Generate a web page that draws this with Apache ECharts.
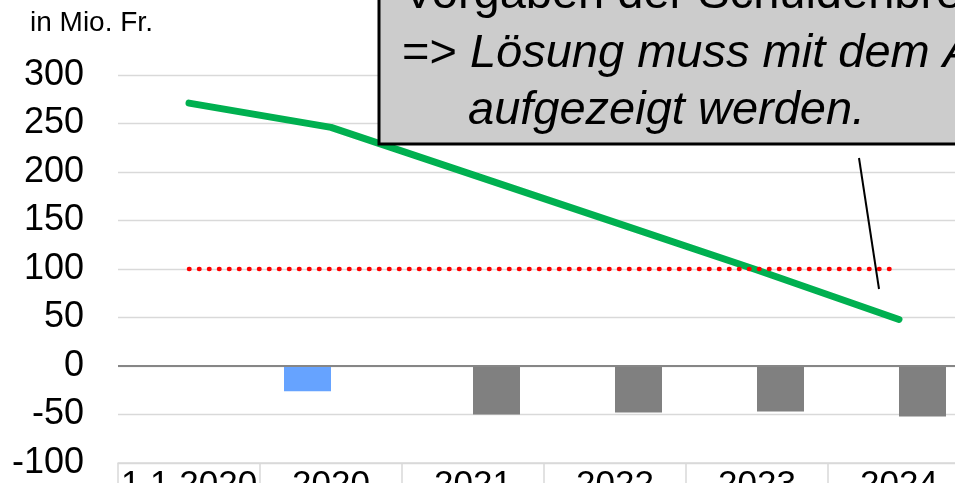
<!DOCTYPE html>
<html>
<head>
<meta charset="utf-8">
<script src="https://cdn.jsdelivr.net/npm/echarts@6/dist/echarts.min.js"></script>
<style>
  html, body { margin: 0; padding: 0; background: #fff; }
  #chart { width: 955px; height: 483px; }
</style>
</head>
<body>
<div id="chart"></div>
<script>
// Kategorien und Werte (in Mio. Fr.)
const categories = ['1.1.2020', '2020', '2021', '2022', '2023', '2024'];
const eigenkapital = [271, 246, 197, 148, 99, 48];
const limite = [100, 100, 100, 100, 100, 100];
const ergebnis2020 = [null, -26, null, null, null, null];
const ergebnisPlan = [null, null, -50, -48, -47, -52];

const FONT = '"Liberation Sans", Arial, sans-serif';

const chart = echarts.init(document.getElementById('chart'));

const option = {
    animation: false,
    backgroundColor: '#ffffff',
    grid: { left: 118, right: -15, top: 75, bottom: 20, outerBoundsMode: 'none', containLabel: false },
    xAxis: {
        type: 'category',
        data: categories,
        axisLine: { onZero: false, lineStyle: { color: '#d9d9d9', width: 1.5 } },
        axisTick: { show: true, length: 30, interval: 0, lineStyle: { color: '#d9d9d9', width: 1.5 } },
        axisLabel: { color: '#000', fontSize: 35, fontFamily: FONT, margin: 5, interval: 0 }
    },
    yAxis: {
        type: 'value',
        min: -100,
        max: 300,
        interval: 50,
        axisLine: { show: false },
        axisTick: { show: false },
        splitLine: { lineStyle: { color: '#d9d9d9', width: 1.3 } },
        axisLabel: { color: '#000', fontSize: 36, fontFamily: FONT, margin: 34 }
    },
    series: [
        {
            type: 'bar',
            data: ergebnis2020,
            barWidth: 47,
            barGap: '0%',
            itemStyle: { color: '#66a3ff' },
            markLine: {
                silent: true,
                symbol: 'none',
                label: { show: false },
                lineStyle: { color: '#868686', width: 2, type: 'solid' },
                data: [{ yAxis: 0 }]
            }
        },
        {
            type: 'bar',
            data: ergebnisPlan,
            barWidth: 47,
            barGap: '0%',
            itemStyle: { color: '#808080' }
        },
        {
            type: 'line',
            data: eigenkapital,
            symbol: 'none',
            z: 3,
            lineStyle: { color: '#00b050', width: 7, cap: 'round', join: 'round' }
        },
        {
            type: 'line',
            data: limite,
            symbol: 'none',
            z: 4,
            lineStyle: { color: '#ff0000', width: 4.5, type: [0.5, 9.5], cap: 'round' }
        }
    ],
    graphic: [
        {
            type: 'text',
            left: 30,
            top: 9,
            style: { text: 'in Mio. Fr.', fontSize: 28, fontFamily: FONT, fill: '#000' }
        },
        {
            type: 'line',
            z: 100,
            shape: { x1: 859, y1: 158, x2: 879, y2: 289 },
            style: { stroke: '#000', lineWidth: 2 }
        },
        {
            type: 'rect',
            z: 100,
            shape: { x: 379, y: -20, width: 700, height: 164 },
            style: { fill: '#cccccc', stroke: '#000', lineWidth: 3 }
        },
        {
            type: 'text',
            z: 101,
            x: 403,
            y: -5,
            style: {
                text: 'Vorgaben der Schuldenbremse',
                fontSize: 47, fontFamily: FONT, fill: '#000', verticalAlign: 'middle'
            }
        },
        {
            type: 'text',
            z: 101,
            x: 402,
            y: 54,
            style: {
                text: '{n|=> }{i|Lösung muss mit dem Aufgabenverzicht}',
                fontSize: 47, fontFamily: FONT, fill: '#000', verticalAlign: 'middle',
                rich: {
                    n: { fontSize: 47, fontFamily: FONT, fill: '#000' },
                    i: { fontSize: 47, fontFamily: FONT, fontStyle: 'italic', fill: '#000' }
                }
            }
        },
        {
            type: 'text',
            z: 101,
            x: 468,
            y: 111,
            style: {
                text: 'aufgezeigt werden.',
                fontSize: 47, fontFamily: FONT, fontStyle: 'italic', fill: '#000', verticalAlign: 'middle'
            }
        }
    ]
};

chart.setOption(option);
</script>
</body>
</html>
